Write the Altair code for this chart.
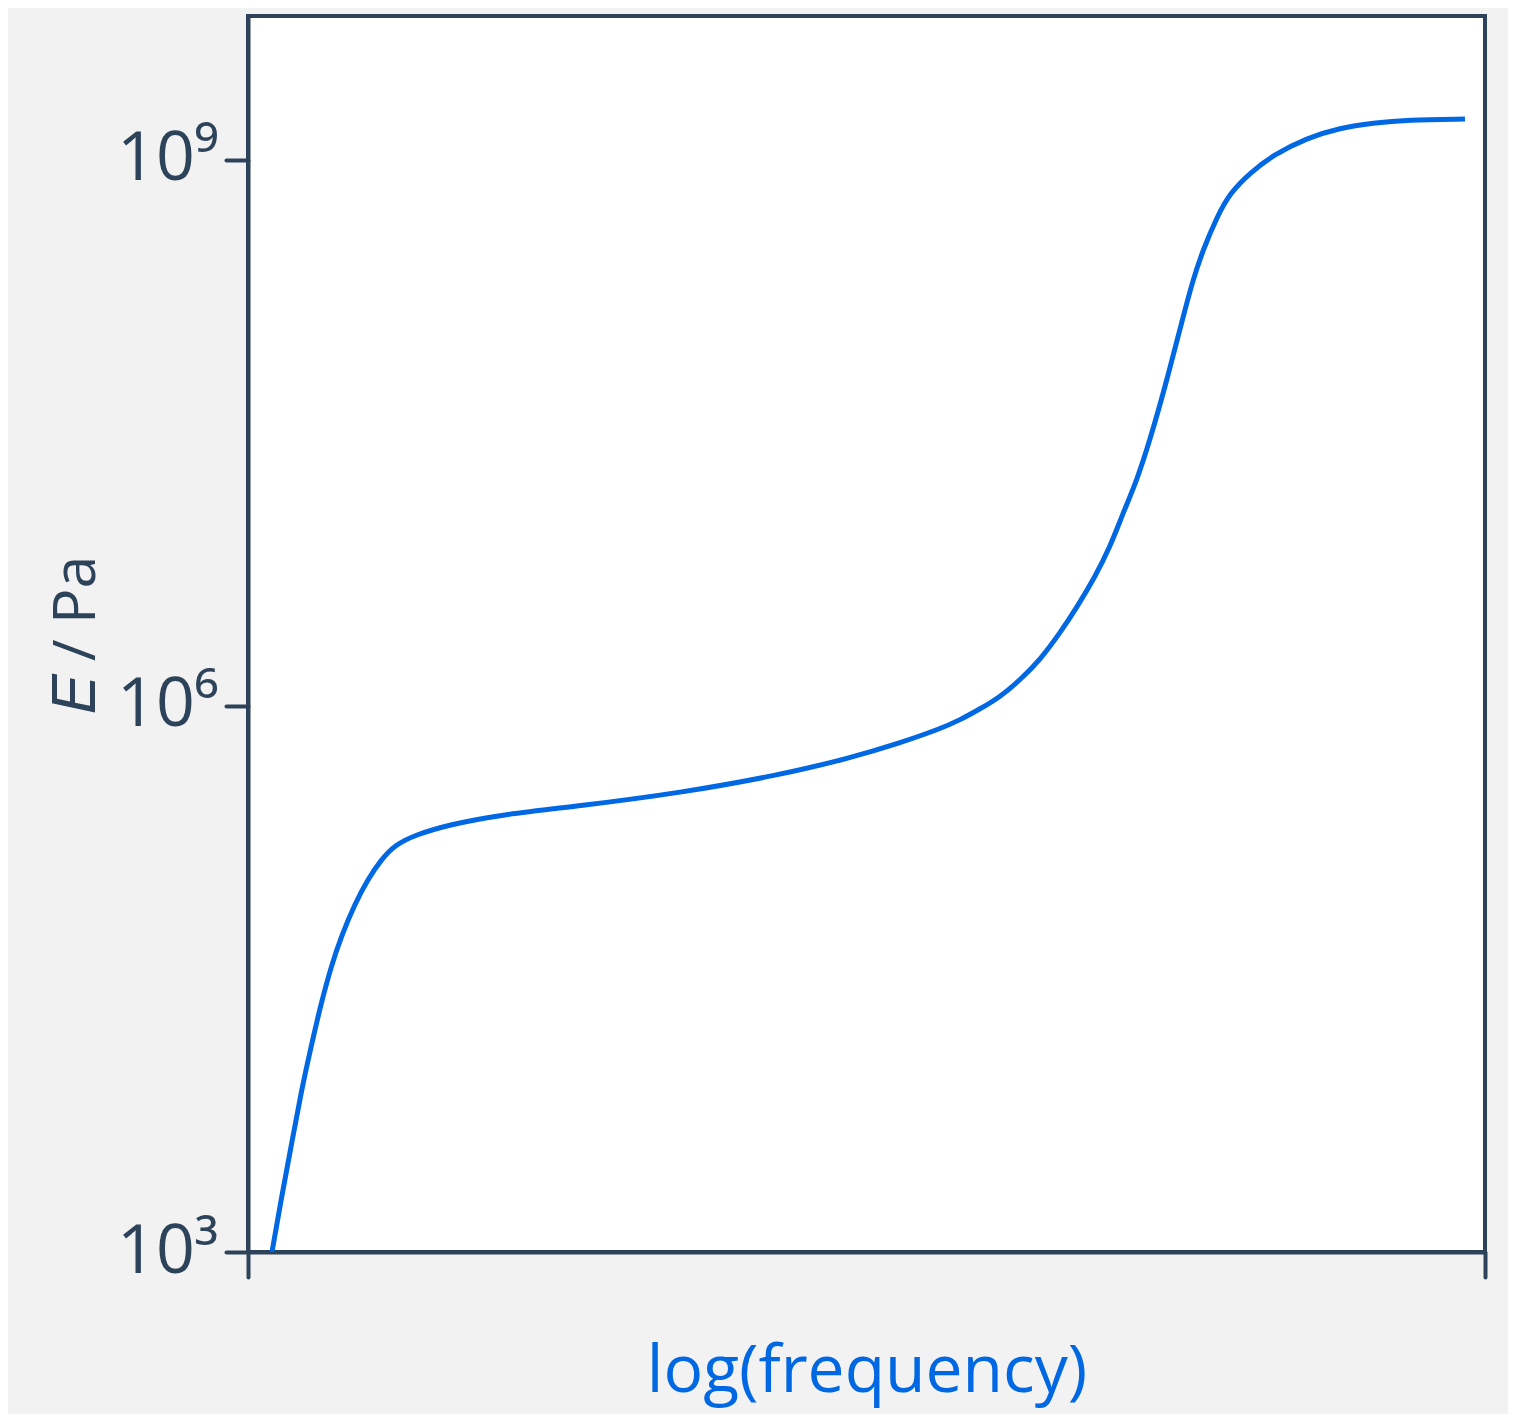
import altair as alt
import pandas as pd

# log10(frequency) position (arbitrary units 0-10) and log10(E / Pa)
x_vals = [0.194, 0.267, 0.348, 0.428, 0.509, 0.590, 0.671, 0.752, 0.865, 0.970,
          1.075, 1.188, 1.350, 1.617, 2.021, 2.684, 3.492, 4.301, 4.867, 5.271,
          5.594, 5.756, 5.918, 6.079, 6.241, 6.403, 6.564, 6.702, 6.847, 6.969,
          7.074, 7.187, 7.292, 7.429, 7.559, 7.639, 7.720, 7.833, 7.939, 8.100,
          8.286, 8.561, 8.828, 9.095, 9.370, 9.838]
logE_vals = [3.000, 3.286, 3.577, 3.874, 4.126, 4.363, 4.566, 4.731, 4.915, 5.049,
             5.154, 5.236, 5.291, 5.346, 5.401, 5.451, 5.522, 5.621, 5.714, 5.797,
             5.874, 5.923, 5.984, 6.049, 6.143, 6.253, 6.401, 6.544, 6.709, 6.874,
             7.060, 7.242, 7.462, 7.791, 8.137, 8.341, 8.505, 8.687, 8.819, 8.929,
             9.027, 9.121, 9.176, 9.203, 9.220, 9.225]
y_ticks = [1e3, 1e6, 1e9]
x_ticks = [0, 10]

df = pd.DataFrame({"x": x_vals, "logE": logE_vals})

DARK = "#2c435a"
BLUE = "#0068e3"
FONT = "Open Sans"

chart = (
    alt.Chart(df)
    .transform_calculate(E="pow(10, datum.logE)")
    .mark_line(color=BLUE, strokeWidth=5, interpolate="basis", clip=True)
    .encode(
        x=alt.X("x:Q",
                scale=alt.Scale(domain=[0, 10], nice=False, zero=False),
                axis=alt.Axis(title="log(frequency)", values=x_ticks, labels=False,
                              grid=False, domainColor=DARK, domainWidth=4,
                              tickColor=DARK, tickWidth=4, tickSize=25, tickCap="round",
                              titleColor=BLUE, titleFont=FONT, titleFontSize=66,
                              titleFontWeight="normal", titlePadding=60)),
        y=alt.Y("E:Q",
                scale=alt.Scale(type="log", domain=[1e3, 6.18e9], nice=False),
                axis=alt.Axis(title="𝐸 / Pa", values=y_ticks,
                              labelExpr="datum.value == 1000 ? '10³' : datum.value == 1000000 ? '10⁶' : '10⁹'",
                              grid=False, domainColor=DARK, domainWidth=4,
                              tickColor=DARK, tickWidth=4, tickSize=22, tickCap="round",
                              labelColor=DARK, labelFont=FONT, labelFontSize=68,
                              labelPadding=8, labelBaseline="middle",
                              titleColor=DARK, titleFont=FONT, titleFontSize=59,
                              titleFontWeight="normal", titlePadding=10)),
    )
    .properties(
        width=1237,
        height=1236,
        autosize=alt.AutoSizeParams(type="none"),
        padding={"left": 240, "top": 8, "right": 23, "bottom": 162},
        background="#f2f2f2",
    )
    .configure_view(fill="white", stroke=DARK, strokeWidth=4)
)

chart.save("out.html", embed_options={"renderer": "svg", "actions": False})
